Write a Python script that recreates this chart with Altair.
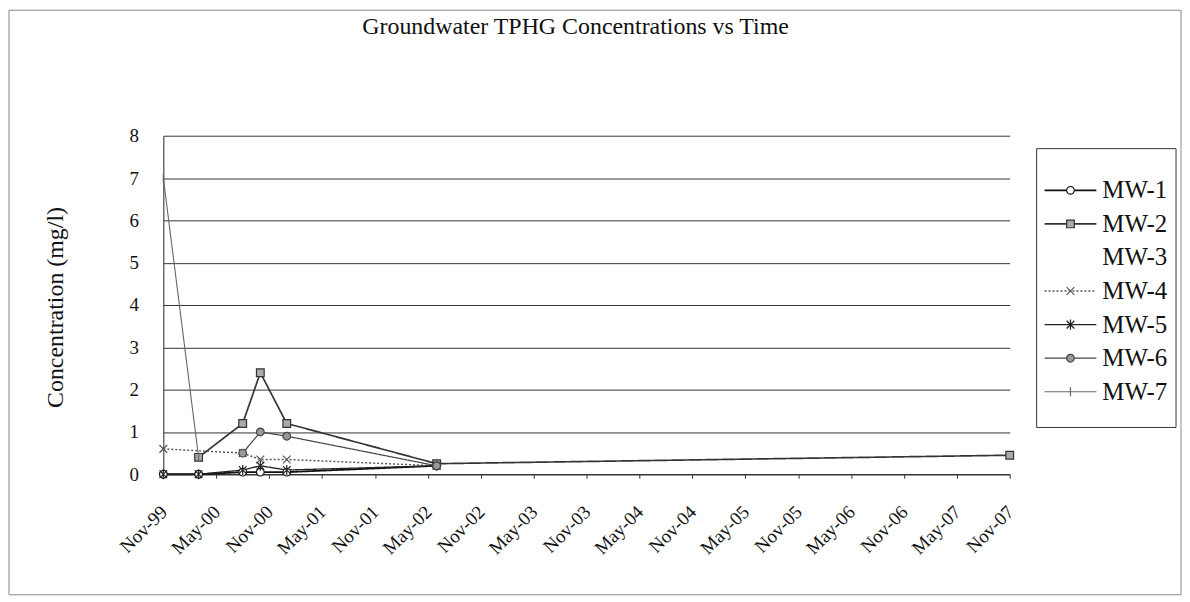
import json
import altair as alt
import pandas as pd

# ---- data ----
dates = ["1999-11", "2000-03", "2000-08", "2000-10", "2001-01", "2002-06", "2007-11"]
series_names = ["MW-1", "MW-2", "MW-3", "MW-4", "MW-5", "MW-6", "MW-7"]
mw1 = [0.0, 0.0, 0.05, 0.05, 0.05, 0.2, None]
mw2 = [None, 0.4, 1.2, 2.4, 1.2, 0.25, 0.45]
mw3 = [None, None, None, None, None, None, None]
mw4 = [0.6, None, 0.5, 0.35, 0.35, 0.2, None]
mw5 = [0.0, 0.0, 0.1, 0.2, 0.1, 0.2, None]
mw6 = [None, None, 0.5, 1.0, 0.9, 0.2, None]
mw7 = [7.0, 0.4, None, None, None, None, None]
tick_labels = ["Nov-99", "May-00", "Nov-00", "May-01", "Nov-01", "May-02", "Nov-02",
               "May-03", "Nov-03", "May-04", "Nov-04", "May-05", "Nov-05", "May-06",
               "Nov-06", "May-07", "Nov-07"]
y_ticks = [0, 1, 2, 3, 4, 5, 6, 7, 8]


def months_since_start(d):
    y, m = map(int, d.split("-"))
    return (y - 1999) * 12 + (m - 11)


rows = []
for name, vals in zip(series_names, [mw1, mw2, mw3, mw4, mw5, mw6, mw7]):
    for d, v in zip(dates, vals):
        if v is not None:
            rows.append({"series": name, "month": months_since_start(d), "value": v})
df = pd.DataFrame(rows)
legend_df = pd.DataFrame({"series": series_names})
one = pd.DataFrame({"k": [0]})

FONT = "Liberation Serif"
W, H = 850, 340

stroke_scale = alt.Scale(domain=series_names,
                         range=["#111111", "#333333", "#ffffff", "#555555", "#222222", "#444444", "#666666"])
fill_scale = alt.Scale(domain=series_names,
                       range=["#ffffff", "#aaaaaa", "#ffffff", "transparent", "transparent", "#999999", "transparent"])
dash_scale = alt.Scale(domain=series_names,
                       range=[[1, 0], [1, 0], [1, 0], [2, 2], [1, 0], [1, 0], [1, 0]])
width_scale = alt.Scale(domain=series_names, range=[1.8, 1.1, 1, 1.1, 1.4, 1.2, 1.0])
shape_scale = alt.Scale(domain=series_names, range=[
    "circle", "square", "circle",
    "M-1,-1L1,1M-1,1L1,-1",
    "M-1,-1L1,1M-1,1L1,-1M0,-1.3L0,1.3",
    "circle",
    "M0,-1.2L0,1.2",
])

x_enc = alt.X("month:Q", scale=alt.Scale(domain=[0, 96], nice=False, zero=False),
              axis=alt.Axis(values=list(range(0, 97, 6)),
                            labelExpr=json.dumps(tick_labels) + "[round(datum.value/6)]",
                            labelAngle=-45, labelFont=FONT, labelFontSize=19,
                            labelColor="#111", labelPadding=24, labelOffset=-6,
                            labelOverlap=False, labelBound=False,
                            grid=False, title=None,
                            tickSize=4, tickColor="#333", domainColor="#222"))
y_main = alt.Y("value:Q", scale=alt.Scale(domain=[0, 8], nice=False),
               axis=alt.Axis(values=y_ticks, grid=True, gridColor="#333", gridWidth=1,
                             labelFont=FONT, labelFontSize=19, labelColor="#111",
                             labelPadding=25, ticks=False, domainColor="#222",
                             title="Concentration (mg/l)", titleFont=FONT, titleFontSize=24,
                             titleFontWeight="normal", titleColor="#111",
                             titleX=-108, titleY=172, titleBaseline="middle"))
y_plain = alt.Y("value:Q", scale=alt.Scale(domain=[0, 8], nice=False), axis=None)

lines = alt.Chart(df).mark_line().encode(
    x=x_enc, y=y_main,
    stroke=alt.Stroke("series:N", scale=stroke_scale, legend=None),
    strokeDash=alt.StrokeDash("series:N", scale=dash_scale, legend=None),
    strokeWidth=alt.StrokeWidth("series:N", scale=width_scale, legend=None),
)
points = alt.Chart(df).mark_point(opacity=1, size=60, strokeWidth=1.2).encode(
    x=x_enc, y=y_plain,
    shape=alt.Shape("series:N", scale=shape_scale, legend=None),
    stroke=alt.Stroke("series:N", scale=stroke_scale, legend=None),
    fill=alt.Fill("series:N", scale=fill_scale, legend=None),
)

# decorations: outer frame, title, legend box
frame = alt.Chart(one).mark_rect(fill="transparent", stroke="#888", strokeWidth=1).encode(
    x=alt.value(-155), x2=alt.value(1022), y=alt.value(-126), y2=alt.value(461))
title = alt.Chart(one).mark_text(text="Groundwater TPHG Concentrations vs Time", font=FONT,
                                 fontSize=24, color="#111").encode(
    x=alt.value(414), y=alt.value(-109))
legend_box = alt.Chart(one).mark_rect(fill="white", stroke="#333", strokeWidth=1).encode(
    x=alt.value(877), x2=alt.value(1017), y=alt.value(13), y2=alt.value(293))

ly = alt.Y("series:N", scale=alt.Scale(type="point", domain=series_names, range=[38, 274]), axis=None)
leg_lines = alt.Chart(legend_df).mark_rule().encode(
    x=alt.value(885), x2=alt.value(937), y=ly,
    stroke=alt.Stroke("series:N", scale=stroke_scale, legend=None),
    strokeDash=alt.StrokeDash("series:N", scale=dash_scale, legend=None),
    strokeWidth=alt.StrokeWidth("series:N", scale=width_scale, legend=None),
)
leg_pts = alt.Chart(legend_df).mark_point(opacity=1, size=60, strokeWidth=1.2).encode(
    x=alt.value(911), y=ly,
    shape=alt.Shape("series:N", scale=shape_scale, legend=None),
    stroke=alt.Stroke("series:N", scale=stroke_scale, legend=None),
    fill=alt.Fill("series:N", scale=fill_scale, legend=None),
)
leg_text = alt.Chart(legend_df).mark_text(align="left", baseline="middle", font=FONT,
                                          fontSize=25, color="#111").encode(
    x=alt.value(943), y=ly, text="series:N")

chart = alt.layer(frame, title, lines, points, legend_box, leg_lines, leg_pts, leg_text).resolve_scale(
    y="independent"
).properties(
    width=W, height=H, padding=0, background="white"
).configure_view(stroke=None)

chart.save("out.html", embed_options={"renderer": "svg", "actions": False})
